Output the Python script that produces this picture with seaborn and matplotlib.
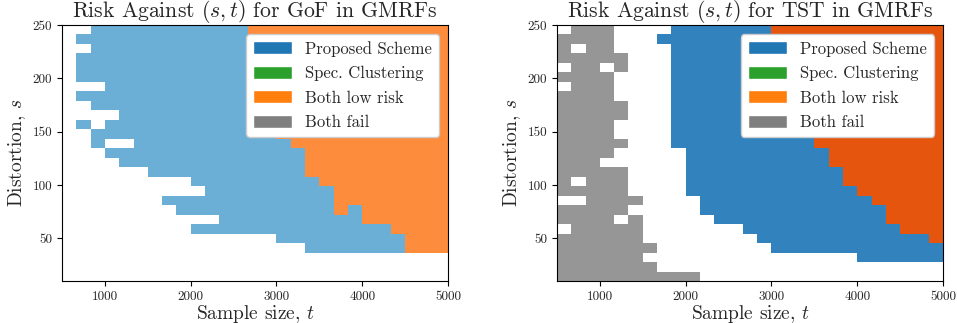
import numpy as np
import matplotlib
matplotlib.use("Agg")
import matplotlib.pyplot as plt
from matplotlib.colors import ListedColormap
from matplotlib.patches import Patch
import seaborn as sns

# Axis ranges / ticks
t_min, t_max = 500, 5000
s_min, s_max = 10, 250
t_ticks = [1000, 2000, 3000, 4000, 5000]
s_ticks = [50, 100, 150, 200, 250]

titles = ["Risk Against $(s,t)$ for GoF in GMRFs",
          "Risk Against $(s,t)$ for TST in GMRFs"]

legend_labels = ["Proposed Scheme", "Spec. Clustering", "Both low risk", "Both fail"]
legend_colors = ["#1f77b4", "#2ca02c", "#ff7f0e", "#7f7f7f"]

# Outcome grid, one row per distortion bin (top row s=250 -> bottom row s=10),
# run-length coded over the 27 sample-size bins.
# W = neither / white, B = proposed scheme only, O = both low risk, G = both fail
gof_rows = [
    "2W 11B 14O",
    "1W 12B 14O",
    "2W 11B 14O",
    "1W 12B 14O",
    "1W 13B 13O",
    "1W 13B 13O",
    "3W 11B 13O",
    "1W 13B 13O",
    "2W 13B 12O",
    "4W 11B 12O",
    "1W 1B 1W 12B 12O",
    "2W 13B 12O",
    "2W 1B 2W 11B 11O",
    "3W 14B 10O",
    "4W 13B 10O",
    "6W 11B 10O",
    "9W 9B 9O",
    "10W 9B 8O",
    "7W 12B 8O",
    "8W 11B 1O 1B 6O",
    "11W 10B 6O",
    "9W 14B 4O",
    "15W 9B 3O",
    "17W 7B 3O",
    "27W",
    "27W",
    "27W",
]

tst_rows = [
    "1W 3G 4W 7B 12O",
    "4G 3W 8B 12O",
    "1G 1W 2G 4W 8B 11O",
    "5G 3W 8B 11O",
    "1W 2G 1W 1G 3W 8B 11O",
    "4G 4W 9B 10O",
    "1W 3G 4W 9B 10O",
    "4G 4W 9B 10O",
    "5G 3W 9B 10O",
    "5G 3W 10B 9O",
    "4G 4W 10B 9O",
    "4G 4W 10B 9O",
    "5G 3W 10B 9O",
    "4G 5W 10B 8O",
    "3G 6W 10B 8O",
    "5G 4W 11B 7O",
    "1G 1W 3G 4W 11B 7O",
    "5G 4W 12B 6O",
    "2W 4G 4W 12B 5O",
    "5G 5W 13B 4O",
    "4G 1W 1G 5W 12B 4O",
    "1W 5G 7W 11B 3O",
    "6G 8W 12B 1O",
    "7G 8W 12B",
    "6G 15W 6B",
    "7G 20W",
    "10G 17W",
]

keys = "WBOG"
gof_colors = {"W": "white", "B": "#6baed6", "O": "#fd8d3c", "G": "#969696"}
tst_colors = {"W": "white", "B": "#3182bd", "O": "#e6550d", "G": "#969696"}


def decode(rows):
    grid = []
    for r in rows:
        cells = []
        for tok in r.split():
            cells += [keys.index(tok[-1])] * int(tok[:-1])
        grid.append(cells)
    return np.array(grid)


sns.set_style("ticks")
plt.rcParams["font.family"] = ["cmr10"]
plt.rcParams["mathtext.fontset"] = "cm"
plt.rcParams["axes.formatter.use_mathtext"] = True

fig, axes = plt.subplots(1, 2, figsize=(9.57, 3.23), dpi=100)
fig.subplots_adjust(left=0.0648, right=0.9854, bottom=0.130, top=0.9226, wspace=0.282)

for ax, rows, cols, title in zip(axes, [gof_rows, tst_rows], [gof_colors, tst_colors], titles):
    grid = decode(rows)
    cmap = ListedColormap([cols[k] for k in keys])
    sns.heatmap(grid, cmap=cmap, vmin=-0.5, vmax=3.5, cbar=False, ax=ax,
                xticklabels=False, yticklabels=False)
    ny, nx = grid.shape
    for sp in ax.spines.values():
        sp.set_visible(True)
        sp.set_color("black")
        sp.set_linewidth(0.8)
    xpos = [(t - t_min) / (t_max - t_min) * nx for t in t_ticks]
    ypos = [(s_max - s) / (s_max - s_min) * ny for s in s_ticks]
    ax.set_xticks(xpos)
    ax.set_xticklabels([str(t) for t in t_ticks], rotation=0, fontsize=9.5)
    ax.set_yticks(ypos)
    ax.set_yticklabels([str(s) for s in s_ticks], rotation=0, fontsize=9.5)
    ax.tick_params(length=3.5, width=0.8, color="black")
    ax.set_xlabel("Sample size, $t$", fontsize=14, labelpad=0)
    ax.set_ylabel("Distortion, $s$", fontsize=14, labelpad=3)
    ax.set_title(title, fontsize=15.6, pad=-2)
    handles = [Patch(facecolor=c, edgecolor="white", label=l)
               for c, l in zip(legend_colors, legend_labels)]
    ax.legend(handles=handles, loc="upper right", fontsize=12, framealpha=1,
              edgecolor="0.8", fancybox=True, handlelength=2.35,
              handleheight=0.8, labelspacing=0.55, borderaxespad=0.55)

fig.savefig("out.png", dpi=100)
